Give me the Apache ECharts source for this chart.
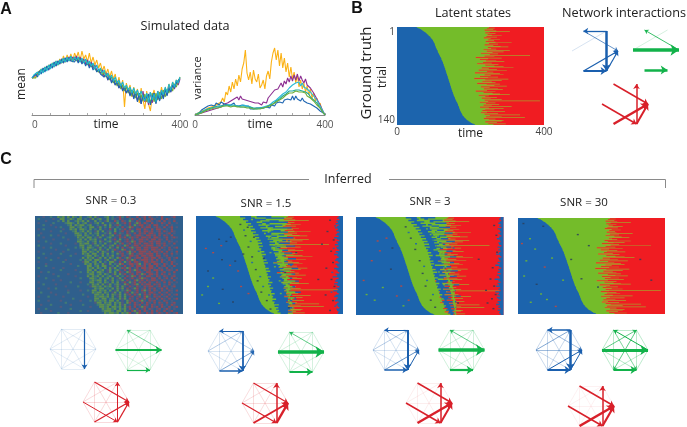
<!DOCTYPE html>
<html><head><meta charset="utf-8">
<script src="https://cdn.jsdelivr.net/npm/echarts@6/dist/echarts.min.js"></script>
<style>html,body{margin:0;padding:0;background:#fff}#c{width:687px;height:427px}</style></head>
<body><div id="c"></div>
<script>
// ---------- DATA ----------
const meanOrange=[37,39,38,42,41,46,43,48,45,50,47,52,48,54,50,56,52,59,53,60,55,61,54,62,57,63,54,64,56,60,53,62,52,58,50,55,47,52,44,49,41,46,38,44,36,41,30,38,27,35,8,32,24,30,18,28,20,26,12,27,15,6,24,11,4,19,25,12,23,16,28,19,27,22,31,25,33,28,35,32,38];
const meanPurple=[37,36,40,38,43,41,46,44,48,45,50,47,52,49,54,51,56,52,57,54,58,54,58,55,59,53,58,52,56,51,55,49,53,47,50,45,47,42,45,38,42,35,39,33,36,30,34,27,31,25,28,22,26,20,24,17,23,14,22,11,24,13,20,10,23,12,22,13,24,15,25,17,26,20,28,23,30,26,33,30,36];
const meanGreen=[37,39,37,42,40,45,43,47,45,49,47,51,49,53,50,55,52,56,53,57,54,58,53,58,54,57,53,56,52,55,50,53,48,51,46,48,43,46,40,43,38,41,35,38,32,35,29,33,26,30,24,28,22,26,19,24,17,22,15,20,14,21,13,20,12,22,13,22,15,23,16,25,18,26,22,28,24,31,28,34,37];
const meanBlue=[37,36,41,38,44,41,47,43,49,45,51,47,53,49,54,51,56,52,57,53,57,54,56,53,57,52,56,51,54,49,53,47,51,45,48,43,46,41,43,38,41,35,39,32,36,30,33,27,31,24,28,22,26,19,25,16,23,13,22,11,20,15,16,21,10,18,22,11,20,14,23,16,26,19,27,23,30,27,32,33,37];
const meanCyan=[37,40,38,43,40,46,42,48,44,50,46,52,48,54,50,55,52,57,53,58,54,59,54,58,55,58,53,57,52,56,51,54,49,52,46,50,44,47,42,45,39,42,37,40,34,38,32,35,29,33,27,30,25,28,22,27,21,25,19,24,18,14,22,12,23,15,21,13,24,17,25,20,28,22,31,25,33,28,35,32,38];
const varOrange=[0,1,2,2,4,3,5,5,7,6,8,7,9,8,11,10,13,17,13,23,20,29,23,33,26,36,29,40,33,46,52,65,42,35,43,31,45,36,33,41,27,30,35,26,39,44,36,53,62,67,55,65,49,62,47,57,43,52,38,48,36,43,32,40,28,35,26,32,23,29,20,26,17,22,14,17,9,12,5,5,0];
const varPurple=[0,1,1,3,2,4,3,5,4,6,5,7,6,8,7,9,8,10,11,9,12,13,14,13,16,15,18,15,19,16,18,15,17,14,16,13,15,12,14,12,13,10,13,14,12,17,16,21,19,25,23,26,27,32,28,34,31,37,33,39,34,40,35,41,34,39,35,32,36,30,29,27,25,22,20,16,14,10,8,3,0];
const varCyan=[0,1,1,2,3,3,5,4,6,5,7,6,8,7,8,8,9,8,9,8,10,8,10,9,10,10,9,10,9,8,10,8,9,7,8,7,6,7,6,6,7,6,8,7,9,9,10,11,13,13,15,16,18,18,21,22,23,25,27,27,30,28,32,30,33,29,32,28,30,26,26,23,22,19,18,15,13,9,7,3,0];
const varBlue=[0,2,1,3,5,4,7,6,9,7,10,10,9,12,13,10,13,11,11,11,10,12,10,9,12,9,11,9,8,10,8,9,7,9,6,8,6,5,7,6,7,5,7,7,8,8,7,10,10,9,12,10,13,13,12,15,14,16,18,15,19,15,19,16,18,14,17,14,16,12,14,11,11,9,9,7,6,4,3,2,0];
const varTeal=[0,1,2,2,3,4,4,5,6,6,7,7,8,7,9,8,9,8,10,8,10,9,9,9,9,8,9,8,8,8,8,7,8,6,8,6,7,5,7,6,7,6,7,7,8,8,10,10,11,12,14,14,16,16,19,19,21,21,24,24,24,25,25,26,25,25,24,24,23,21,21,18,18,15,15,12,10,7,6,2,0];
const varGreen=[0,1,1,2,2,3,4,4,5,5,6,6,7,6,7,7,8,7,9,8,9,8,8,8,9,7,8,7,8,7,8,7,7,6,7,6,6,5,6,5,6,6,7,6,8,7,9,9,11,11,13,13,15,15,17,17,20,19,22,22,22,23,24,24,23,23,23,21,22,19,19,17,16,14,13,10,9,7,5,2,0];
const truthBlueEnd=[54,58,62,65,68,71,74,76,79,81,83,85,87,89,91,92,94,95,97,98,99,100,101,102,103,103,104,105,105,106,107,108,109,110,111,111,112,113,114,115,116,117,118,119,120,121,121,122,123,124,125,125,126,127,127,128,129,129,130,131,131,132,133,133,134,134,135,136,136,137,138,138,139,139,140,141,141,142,142,143,144,144,145,145,146,147,147,148,148,149,150,150,151,152,152,153,154,154,155,156,157,158,158,159,160,161,162,163,164,165,166,166,167,168,169,169,170,171,171,172,173,174,175,176,177,178,179,181,182,184,186,188,190,192,195,198,201,204,208,212];
const truthGreenEnd=[250,266,245,262,238,270,307,252,240,268,246,258,285,243,272,236,255,280,248,264,241,268,312,250,275,238,262,282,303,247,256,270,235,307,244,290,260,228,275,252,362,238,265,214,285,248,225,270,242,292,234,258,218,276,240,265,290,317,230,250,272,222,299,245,262,212,280,290,238,255,226,275,248,210,303,240,285,232,258,268,218,280,244,265,299,228,252,275,236,288,245,214,268,235,260,280,307,222,250,240,272,230,255,285,238,389,248,225,268,242,278,235,258,312,226,250,290,240,265,232,294,245,228,275,238,335,252,285,242,348,236,268,250,290,285,240,272,248,296,262];
const specks30=[[12,8,'k'],[30,30,'g'],[8,37,'r'],[44,45,'g'],[66,12,'k'],[20,62,'g'],[70,71,'r'],[90,58,'g'],[14,84,'g'],[48,96,'k'],[60,110,'g'],[32,122,'g'],[100,128,'r'],[142,60,'k'],[170,88,'k'],[190,40,'k'],[215,100,'k'],[160,24,'k'],[330,60,'k'],[360,90,'k'],[120,90,'g'],[76,118,'g']];
const snr15BandStart=[120,134,128,142,136,150,141,155,148,160,150,163,155,170,160,172,164,176,168,180,170,182,172,178,176,186,178,190,180,184,182,192,184,196,186,190,188,198,190,202,192,196,194,204,196,200,198,208,196,204,200,210,202,206,204,214,206,210,208,218,208,214,212,220,214,224,218,226,222,230];
const snr15BandEnd=[205,240,190,225,250,200,235,215,260,195,230,250,205,240,220,265,200,245,225,255,210,270,230,205,250,225,262,215,245,235,272,225,250,210,265,240,225,278,235,255,220,270,245,228,262,240,280,232,255,245,270,238,258,240,285,245,262,240,272,250,262,245,270,255,250,265,258,250,262,250];
const snr15StreakStart=[150,160,150,175,165,180,170,190,175,195,180,195,185,205,190,205,195,210,200,215,200,220,205,210,210,225,212,225,215,222,218,230,220,235,222,228,225,238,228,240,230,235,232,245,235,240,238,250,236,244,240,250,244,248,246,255,248,252,250,258,250,255,252,260,252,262,256,262,258,262];
const snr15StreakEnd=[165,190,155,200,180,190,200,195,210,205,205,200,190,225,205,225,200,235,220,225,215,245,215,215,235,230,240,230,235,240,250,240,240,240,250,245,235,260,240,255,235,260,245,250,255,248,270,255,250,255,265,255,258,252,270,260,258,255,268,262,255,260,262,262,254,265,258,264,260,264];
const snr15Tail=[388,384,390,382,386,380,388,384,378,386,382,390,384,380,388,376,384,390,382,386,378,388,382,384,390,380,386,376,384,388,382,378,386,390,380,384,388,376,382,386,390,380,384,372,388,382,378,386,376,384,390,382,386,374,384,388,380,376,386,382,378,388,384,380,386,390,382,384,388,386];
const snr3BandStart=[135,150,142,158,150,165,156,172,162,176,168,180,172,186,176,190,180,194,184,198,186,200,190,196,194,204,196,208,198,202,200,210,202,212,204,208,206,216,208,220,210,214,212,222,214,218,216,226,218,222,220,230,224,228,226,234,228,232,232,240,234,238,238,244,240,248,244,252,250,256];
const snr3BandEnd=[215,195,235,210,245,205,225,255,200,238,218,262,208,245,228,250,212,268,232,242,218,258,236,210,262,226,248,216,272,232,240,222,266,238,214,258,244,228,276,234,252,226,268,238,222,262,246,234,280,240,256,236,270,244,262,240,284,250,258,246,272,252,264,256,272,258,268,262,270,264];
const snr3StreakStart=[165,170,165,185,175,190,180,200,190,205,195,205,200,215,205,218,208,220,212,225,215,230,218,222,222,235,225,236,228,232,230,240,232,244,235,240,236,248,240,250,242,246,245,255,246,250,250,258,250,255,252,260,255,258,258,262,258,262,260,264,262,264,264,266,266,268,266,268,266,268];
const snr3StreakEnd=[175,185,200,200,215,195,205,225,195,220,215,240,205,225,220,230,210,245,225,235,217,245,228,222,245,240,240,236,255,240,245,242,255,244,250,245,240,260,245,255,250,250,255,255,252,255,260,258,265,262,262,265,268,262,268,265,270,266,268,270,268,270,270,272,270,272,270,270,270,272];
const snr3Tail=[392,388,394,390,386,392,388,394,384,390,392,386,390,394,388,382,390,392,386,388,394,384,390,386,392,388,380,390,394,386,388,392,384,390,378,388,394,386,390,384,392,382,388,390,376,386,392,384,388,380,390,386,392,378,388,384,390,382,386,392,384,388,380,390,386,392,384,390,388,392];
const specks15=[[60,33,'k'],[80,36,'k'],[66,42,'r'],[92,30,'k'],[44,52,'r'],[90,70,'r'],[68,62,'k'],[30,100,'g'],[44,88,'g'],[126,54,'k'],[112,78,'r'],[104,64,'k'],[14,112,'g'],[70,104,'k'],[120,100,'r'],[98,122,'k'],[60,124,'g'],[30,78,'k'],[140,110,'r'],[24,46,'r'],
 [118,12,'k'],[132,28,'k'],[140,44,'k'],[150,58,'k'],[160,76,'k'],[165,92,'k'],[175,108,'k'],[190,120,'k'],[200,132,'k'],[128,20,'b'],[146,36,'b'],[150,66,'b'],[168,50,'b'],[172,86,'b'],[180,100,'b'],[188,70,'b'],[196,112,'b'],[138,16,'k'],[155,30,'k'],[182,60,'k'],
 [196,30,'g'],[200,52,'g'],[215,44,'g'],[212,72,'g'],[225,92,'g'],[205,20,'g'],[228,110,'g'],[232,60,'g'],[220,126,'g'],[240,80,'k'],[250,35,'b'],[256,70,'b'],[262,100,'b'],[268,118,'b'],[270,52,'k'],[250,130,'k'],
 [362,6,'k'],[355,22,'k'],[372,34,'k'],[365,50,'k'],[370,66,'k'],[352,74,'k'],[366,90,'k'],[374,100,'k'],[350,112,'k'],[370,120,'k'],[362,134,'k'],[340,40,'k'],[330,90,'k'],[376,14,'b'],[368,80,'b'],[372,46,'b'],[366,108,'b'],[376,128,'b']];
const specks3=[[56,34,'r'],[80,30,'r'],[62,48,'r'],[96,44,'k'],[40,62,'r'],[92,74,'k'],[26,110,'g'],[48,118,'g'],[120,98,'r'],[108,112,'r'],[70,100,'g'],[126,126,'g'],[18,90,'r'],[140,118,'r'],
 [132,14,'k'],[146,30,'k'],[158,46,'k'],[170,62,'k'],[178,80,'k'],[186,98,'k'],[200,118,'k'],[140,22,'b'],[160,38,'b'],[182,70,'b'],[190,90,'b'],[206,110,'b'],[212,128,'k'],
 [210,26,'g'],[226,52,'g'],[222,78,'g'],[236,96,'g'],[232,116,'g'],[262,44,'b'],[268,84,'b'],[274,122,'k'],
 [362,88,'k'],[372,98,'k'],[350,104,'k'],[366,116,'k'],[376,110,'k'],[354,122,'k'],[372,12,'k'],[378,26,'k'],[368,72,'k'],[380,50,'k'],[330,60,'k'],[370,130,'k']];
const snr03=[
"sssqsshssGhGsGsGhsGsshGsGqsshGshsqRhsRqssRsqRsRqsqsRsssqRss",
"shsssssqssGGshGhsGGshsqGshGssGshqsRqsshRqsRsRsqRqssRsRqsqss",
"ssssqsssshsGsGsshGhGsGssGshsqGssRhsRqsGqsRqssRRqsqRsRsqsRss",
"sqssssshsssshGGhsGshGsqshGsGsshqsGsqRsRsqGRsRqsRsqsRqsRssqs",
"ssshssqsssssshGsGhGGshGsshsqGsGsqRhsqsRsGqRRsqRsRRsqsRsqsss",
"ssssssssqshsssGGshGshsGGsqGshsGqshsRsqGRsqsRqRRsqRqsRsqRsqs",
"sqshsssssssqssGhGsGGhsGshsGsqsRsGshqRsRqsRRsRqsRsRRqsqsRsss",
"ssssssqssshsssshGshGsGhsqGsGsqhsGsqRsRqGsqRsRRqRsqRsRqsRqss",
"ssqsssssssssqsssGGhsGsGshGsshqGsRshqsRqsRsRqRsRRqsRqsqRsqss",
"shsssshssqsssssshGGsGhshsGsGqshGsqRsqGRsqRRqsRRqRsRsRqsRsss",
"sssqssssssshsssssGhGsGGshqGsshGsqsRqRshRqRsRRqRsRRqsqRsqRqs",
"sssssssqsssssqssshGsGsGhGsqsGshqRsGsqRsRsqRRqRsRRsRqsRsqsss",
"sqsshssssssssssssGGhsGshGsGqshGsqGRsqRqGRsRRqsRRqRRsqsRqsqs",
"ssssssqssshsssssqsGhGGsqGshsGsqsGshRsqRsRqRsRRqRsRRqRsqsRss",
"shssssssssssqsssssGGshGshGsGsqhGsRqsGRsqRRsRqRRRsqRsRqsqsss",
"sssqsshssssssssshshGsGGhsqGshsGqsGsRsqRGqRRsRRqRRRsRqsRsqRs",
"ssssssssqsssshsssssGhGshGsGqsGshRqsGRsqRsRRqRRsRRqRsqsRqsss",
"sqsssssssssqsssssssGGsGhsGsGhqsGsqRqsRGqRsRRRqRsRRqRsRsqsRs",
"ssshssqssshsssssqssGhGsGGsqGsGshsGqRsqGRsqRRqRRRsRqsRqsRsqs",
"sssssssssssssshssssshGGsGhsGshqGsqsRqsRRqRsRRqRRsRRsqRsqsss",
"shssqssssqsssssssssGsGhGsqGsGsGhsGRsqGRsqRRsRRqRRsRqsqRsqRs",
"sssssshsssssqssssshsGhGsGGhsqGsqGsqRsRqGRsqRRRqRsRsRqsRsqss",
"sqssssssssshsssssssqGGshGsGshsGGqsRsGqRsRRqsRRqRRqsRsqsRqss",
"ssssqsssssssssqsssssGhGsGhsGqsGshqGRsqRRqRGsRqRsRRqsRqsRsqs",
"sssshsssssssssssshsssGGshGsGGsqhsGqsRsqRsRRqRsRRsRsqRsqsRss",
"shsssssqsssqsssssssssGhGsGhsGsGqGshRqGRsqRsRRqRRqsRqsRsqsss",
"sssssssssshsssssqssssGGsGshGsqGshGqsRsRqGRqsRqRsRRqRsqRqsRs",
"ssqsshsssssssssssshssGhGsGGhsqGsGsRqsGRqsRRqsRRqsRsqRsqsRss",
"sssssssqsssssqssssssshGGshGsGhsqGsGqRsqRsRqGRsRRqRsRqsRsqss",
"sqssssssshssssssqssssGsGhGsGshGsqGshsRqGRsRqsRRqsRqsRqsqRss",
"sssshssssssssssssshsssGGhsGshGsGsqGsRsqRsqRGRqsRRsRsqRsRsqs",
"sssssssqssqssssssssssshGhGGsGsqGshqGsRqsRGqRsRqRRqsRqsqsRss",
"sqsssssssssssshsssqsssGGshGsGhsGsGsqRsGqRsRqRsRqsRqsRsRqsqs",
"ssshssssqsssssssssssshsGhGsGsqGshGqsGRsqRGsRqRRsRqRsqsRsqss",
"ssssssssssssqsssshssssqGGhGsGhGsqGsGqsRqsRqsRqRRsqRsRqsqRss",
"sqsssqsshsssssssssssssssGhGGshsGsGqGsRsqGRsqRsRqRsqRsRsqsss",
"sssssssssssssqssssqsshsGGsGhGsGsqGshqGRsqRsRGqRsRqsRqsRqsRs",
"sshsssqsssssshsssssssssGhGGsGhsqGsGsqRsGqRsqRsRRqsRsqRsqsss",
"ssssssssqsssssssssshssssGGhGsGsGhqGsGqRsRqGsRqRsRqsRqsRsqRs",
"sqssshsssssqsssssssssqssGhGGhGsGsqGsGsqRsqRsRGqsRqRsqRsqsss",
"ssssssssssssssshssssssssGGsGGshGhsGqGsRqsRsqRsRqsRsRqsRsqRs",
"shsssqssssqsssssssqssshsGhGhGsGGsGsqsGqRsqRGqsRqRsqsRqsqsss",
"sssssssssssshsssssssssssqGGsGhGsGhGqsGRsRqsRsRqsRsRqsRsqRss",
"ssqssshsssssssqsssshssssshGGhGGsGsGqGsqsRqRsqRsRqsqRsqsRqss",
"ssssssssssqsssssssssssqsssGGhGsGGhGsGqRsRsqGRqsRqRsRqsRsqRs",
"sqsshssssssssshssssssssssssGhGGhGsGhGsRqsRsqRsRqsqRsqRqsqss",
"ssssssqssssssssssshssqssssshGGGhsGGsGqsRGqRsRqsRsRqsRsqRsss",
"ssqsssssshsssqssssssssssssssGhGGhGsGhGRsqGRqsRqRsqRqsRqsqRs"];
// network links: [from, to, weight]; nodes 0 right, 1 top right, 2 top left, 3 left, 4 bottom left, 5 bottom right
const truthBlue=[[3,1,.35],[2,0,.8],[1,5,2.5],[1,2,1.3],[4,5,2],[5,0,1.2],[4,0,1.2]];
const truthGreen=[[3,1,.35],[0,2,.9],[3,0,3.5],[4,5,2.5]];
const truthRed=[[2,0,1.5],[3,5,1.5],[4,0,2.5],[5,1,1.5],[5,0,2]];
const snr03Blue=[[1,5,1.2]], snr03Green=[[3,0,2],[4,5,1.2],[0,2,.7]], snr03Red=[[2,0,1.1],[3,5,1],[4,0,1.2],[5,1,1],[5,0,1.3]];
const snr15Blue=[[1,5,1.8],[1,2,1],[4,5,1.5],[5,0,.8],[4,0,.7],[2,0,.5],[3,1,.5]], snr15Green=[[3,0,3.5],[4,5,2],[0,2,.8]], snr15Red=[[2,0,1.2],[3,5,1.2],[4,0,2],[5,1,1.5],[5,0,2.5]];
const snr3Blue=[[1,5,2],[1,2,1],[4,5,1.5],[5,0,1],[4,0,.8],[2,0,.5],[3,1,.5]], snr3Green=[[3,0,3.5],[4,5,2.2],[0,2,.8]], snr3Red=[[2,0,1.5],[3,5,1.5],[4,0,2.5],[5,1,1.5],[5,0,2]];
const snr30Blue=[[1,5,2.5],[1,2,1.5],[4,5,2],[5,0,1],[4,0,1],[3,1,.7],[2,0,.6],[3,0,.6]], snr30Green=[[3,0,3],[4,5,2],[0,2,1],[1,4,.8],[3,1,.8],[2,5,.7],[3,5,.5]], snr30Red=[[2,0,1.5],[3,5,1.5],[4,0,2.5],[5,1,1.5],[5,0,2.2]];
const hexNodes=[[1,0],[.5,.866],[-.5,.866],[-1,0],[-.5,-.866],[.5,-.866]];
const snrTitles=["SNR = 0.3","SNR = 1.5","SNR = 3","SNR = 30"];

// ---------- STYLE / LAYOUT ----------
const FONT='"Open Sans",sans-serif';
const BLUE='#1c64ad',GREEN='#74bc2a',RED='#f01c22',OLIVE='#aa9a2a';
const palette={b:BLUE,g:GREEN,r:'#c8463a',k:'#2b3f5c',s:'#2f5f8c',q:'#555a7c',h:'#437c72',G:'#639548',R:'#984852'};
const netColor={blue:'#1a5fae',green:'#12b24a',red:'#d8202a'};
const grid=[],xAxis=[],yAxis=[],series=[];
function addGrid(r,xa,ya,bg){grid.push(Object.assign({left:r[0],top:r[1],width:r[2],height:r[3]},bg?{show:true,backgroundColor:bg,borderWidth:0}:{}));
  const i=grid.length-1;xAxis.push(Object.assign({gridIndex:i},xa));yAxis.push(Object.assign({gridIndex:i},ya));return i;}
const hidden=(min,max,extra)=>Object.assign({type:'value',min,max,show:false,scale:false},extra||{});
const nameStyle={fontFamily:FONT,fontSize:12,color:'#222'};

function timeAxis(alignLeft,gap){return {type:'value',min:0,max:400,interval:50,name:'time',nameLocation:'middle',nameGap:gap,nameMoveOverlap:false,
  nameTextStyle:nameStyle,
  axisLine:{lineStyle:{color:'#8a8a8a',width:1}},axisTick:{show:true,inside:true,length:2,lineStyle:{color:'#aaa'}},splitLine:{show:false},
  axisLabel:{customValues:[0,400],margin:5,fontFamily:FONT,fontSize:10,color:'#555',alignMinLabel:alignLeft?'left':'center'}};}
function lines(idx,arr,colors){arr.forEach((a,k)=>series.push({type:'line',xAxisIndex:idx,yAxisIndex:idx,symbol:'none',silent:true,animation:false,
  lineStyle:{width:1.1,color:colors[k]},data:a.map((v,i)=>[i*400/(a.length-1),v])}));}
const g1=addGrid([32,45,148,70],timeAxis(true,4),hidden(0,70));
lines(g1,[meanOrange,meanPurple,meanGreen,meanBlue,meanCyan],['#fbb216','#8d2f92','#6fae3a','#1f66b2','#1fb6cc']);
const g2=addGrid([195,45,130,70],timeAxis(false,4),hidden(0,70));
lines(g2,[varOrange,varPurple,varBlue,varCyan,varTeal,varGreen],['#fbb216','#8d2f92','#1f66b2','#2bbcd8','#1fa99c','#6fae3a']);

// state maps drawn as one polygon per state so that thin trials blend like the reference
function stairs(api,n,dim,x0){const p=[api.coord([x0,1])];
  for(let i=0;i<n;i++){const y0=1+i*139/n,y1=1+(i+1)*139/n,v=api.value(dim,i);p.push(api.coord([v,y0]),api.coord([v,y1]));}
  p.push(api.coord([x0,140]));return p;}
function stateMap(idx,blueEnd,greenEnd){
  // trials that stick out past their neighbours read as thin blended streaks
  const core=greenEnd.map((v,i)=>Math.min(v,greenEnd[Math.max(i-1,0)],greenEnd[Math.min(i+1,greenEnd.length-1)]));
  const rows=blueEnd.map((b,i)=>[i+1,b,greenEnd[i],core[i]]);
  series.push({type:'custom',xAxisIndex:idx,yAxisIndex:idx,silent:true,animation:false,clip:true,data:rows,encode:{x:1,y:0},
    renderItem(params,api){
      if(params.dataIndex!==0)return null;
      const n=rows.length,a=api.coord([0,1]),b=api.coord([400,140]);
      return {type:'group',children:[
        {type:'rect',shape:{x:a[0],y:a[1],width:b[0]-a[0],height:b[1]-a[1]},style:{fill:RED}},
        {type:'polygon',shape:{points:stairs(api,n,2,0)},style:{fill:OLIVE}},
        {type:'polygon',shape:{points:stairs(api,n,3,0)},style:{fill:GREEN}},
        {type:'polygon',shape:{points:stairs(api,n,1,0)},style:{fill:BLUE}}]};
    }});
}
function bandLayer(idx,startArr,endArr,streakStart,streakEnd,tailArr){
  const rows=startArr.map((s,i)=>[i,s,endArr[i],streakStart[i],streakEnd[i],tailArr[i]]);
  series.push({type:'custom',xAxisIndex:idx,yAxisIndex:idx,silent:true,animation:false,clip:true,data:rows,encode:{x:1,y:0},
    renderItem(params,api){
      if(params.dataIndex!==0)return null;
      const n=rows.length;
      const band=(d0,d1)=>stairs(api,n,d0,0).slice(1,-1).concat(stairs(api,n,d1,0).slice(1,-1).reverse());
      return {type:'group',children:[
        {type:'polygon',shape:{points:band(1,2)},style:{fill:BLUE}},
        {type:'polygon',shape:{points:band(3,4)},style:{fill:GREEN}},
        {type:'polygon',shape:{points:stairs(api,n,5,400)},style:{fill:BLUE}}]};
    }});
}
function speckLayer(idx,specks){
  series.push({type:'custom',xAxisIndex:idx,yAxisIndex:idx,silent:true,animation:false,clip:true,
    data:specks.map(s=>[s[0],s[1],'kgrb'.indexOf(s[2])]),encode:{x:0,y:1},
    renderItem(p,api){const c=api.coord([api.value(0),api.value(1)]);
      return {type:'rect',shape:{x:c[0],y:c[1],width:2,height:1.4},style:{fill:[palette.k,palette.g,palette.r,palette.b][api.value(2)],opacity:.85}};}});
}
const gB=addGrid([397,27,147,98],{type:'value',min:0,max:400,name:'time',nameLocation:'middle',nameGap:3,nameMoveOverlap:false,nameTextStyle:nameStyle,
  axisLine:{show:false},axisTick:{show:false},splitLine:{show:false},
  axisLabel:{customValues:[0,400],margin:2,fontFamily:FONT,fontSize:10,color:'#444'}},
  {type:'value',min:1,max:140,inverse:true,axisLine:{show:false},axisTick:{show:false},splitLine:{show:false},
  axisLabel:{customValues:[1,140],margin:2,fontFamily:FONT,fontSize:10,color:'#444',verticalAlignMinLabel:'top',verticalAlignMaxLabel:'bottom'}});
stateMap(gB,truthBlueEnd,truthGreenEnd);

// inferred state maps
function cellMap(rect,rowsTxt,cols){
  const idx=addGrid(rect,hidden(0,cols),hidden(0,rowsTxt.length,{inverse:true}),palette.s);
  const keys=Object.keys(palette),runs=[];
  rowsTxt.forEach((txt,r)=>{const t=txt.padEnd(cols,txt[txt.length-1]).slice(0,cols);let s=0;
    for(let c=1;c<=cols;c++){if(c===cols||t[c]!==t[s]){if(t[s]!=='s')runs.push([s,c,r,r+1,keys.indexOf(t[s])]);s=c;}}});
  series.push({type:'custom',xAxisIndex:idx,yAxisIndex:idx,silent:true,animation:false,clip:true,data:runs,encode:{x:[0,1],y:[2,3]},
    renderItem(p,api){const a=api.coord([api.value(0),api.value(2)]),b=api.coord([api.value(1),api.value(3)]);
      return {type:'rect',shape:{x:a[0],y:a[1],width:b[0]-a[0],height:b[1]-a[1]},style:{fill:palette[keys[api.value(4)]],opacity:.9}};}});
}
cellMap([35,216,148,98],snr03,60);
const g15=addGrid([196,216,147,98],hidden(0,400),hidden(1,140,{inverse:true}));
stateMap(g15,truthBlueEnd,truthGreenEnd);bandLayer(g15,snr15BandStart,snr15BandEnd,snr15StreakStart,snr15StreakEnd,snr15Tail);speckLayer(g15,specks15);
const g3=addGrid([356,217,147.5,98],hidden(0,400),hidden(1,140,{inverse:true}));
stateMap(g3,truthBlueEnd,truthGreenEnd);bandLayer(g3,snr3BandStart,snr3BandEnd,snr3StreakStart,snr3StreakEnd,snr3Tail);speckLayer(g3,specks3);
const g30=addGrid([518,218,147,96],hidden(0,400),hidden(1,140,{inverse:true}));
stateMap(g30,truthBlueEnd,truthGreenEnd);speckLayer(g30,specks30);

// network diagrams
function network(center,links,faint,colorName){
  const idx=addGrid([center[0]-23,center[1]-20,46,40],hidden(-1,1),hidden(-.866,.866));
  const color=netColor[colorName],ls=[];
  if(faint>0)for(let i=0;i<6;i++)for(let j=i+1;j<6;j++)
    if(!links.some(l=>(l[0]===i&&l[1]===j)||(l[0]===j&&l[1]===i)))ls.push({source:i,target:j,symbol:['none','none'],lineStyle:{color,width:.7,opacity:faint*.8}});
  links.forEach(l=>{const w=l[2];ls.push({source:l[0],target:l[1],symbol:['none',w>=.5?'arrow':'none'],symbolSize:[0,2.5+w*1.7],
    lineStyle:{color,width:w,opacity:w>=1?1:.25+w*.75}});});
  series.push({type:'graph',coordinateSystem:'cartesian2d',xAxisIndex:idx,yAxisIndex:idx,layout:'none',silent:true,animation:false,
    symbolSize:0,label:{show:false},data:hexNodes.map(n=>({value:n})),links:ls});
}
[[[595,51],truthBlue,0,'blue'],[[656,50],truthGreen,0,'green'],[[625,104],truthRed,0,'red'],
 [[73,349],snr03Blue,.22,'blue'],[[138.5,350],snr03Green,.28,'green'],[[106,402],snr03Red,.3,'red'],
 [[231,351],snr15Blue,.3,'blue'],[[301,352],snr15Green,.32,'green'],[[265,403],snr15Red,.28,'red'],
 [[396,350],snr3Blue,.32,'blue'],[[461.5,350],snr3Green,.35,'green'],[[429,403],snr3Red,.14,'red'],
 [[559,350],snr30Blue,.42,'blue'],[[625,350],snr30Green,.5,'green'],[[591,406],snr30Red,.12,'red']
].forEach(n=>network(n[0],n[1],n[2],n[3]));

// texts and bracket
const txt=(text,x,y,size,extra)=>Object.assign({type:'text',x,y,silent:true,style:{text,fontFamily:FONT,fontSize:size,fill:'#222',align:'center',verticalAlign:'middle'}},extra||{});
const head=(text,x,y)=>({type:'text',x,y,silent:true,style:{text,fontFamily:'"Liberation Sans",Arial,sans-serif',fontWeight:'bold',fontSize:16,fill:'#111',align:'center',verticalAlign:'middle'}});
const rot=(text,x,y,size)=>txt(text,x,y,size,{rotation:Math.PI/2});
const seg=(pts)=>({type:'polyline',silent:true,shape:{points:pts},style:{stroke:'#8a8a8a',lineWidth:1,fill:'none'}});
const graphic=[head('A',6,10),head('B',357,9),head('C',6,160),
  txt('Simulated data',185,26,12.7),txt('Latent states',473,13,12.7),txt('Network interactions',624,13,12.7),
  rot('mean',22,84,12),rot('variance',198,78,11),rot('Ground truth',367,73,15),rot('trial',383,77,12),
  txt('Inferred',348,179,12.5),
  seg([[34,188],[34,179.5],[309,179.5]]),seg([[389,179.5],[665.5,179.5],[665.5,188]])];
const titlePos=[[111,201],[266,204],[430,202],[584,203]];
snrTitles.forEach((t,i)=>graphic.push(txt(t,titlePos[i][0],titlePos[i][1],11.5)));

const chart=echarts.init(document.getElementById('c'),null,{renderer:'canvas'});
chart.setOption({animation:false,backgroundColor:'#fff',grid,xAxis,yAxis,series,graphic});
</script></body></html>
